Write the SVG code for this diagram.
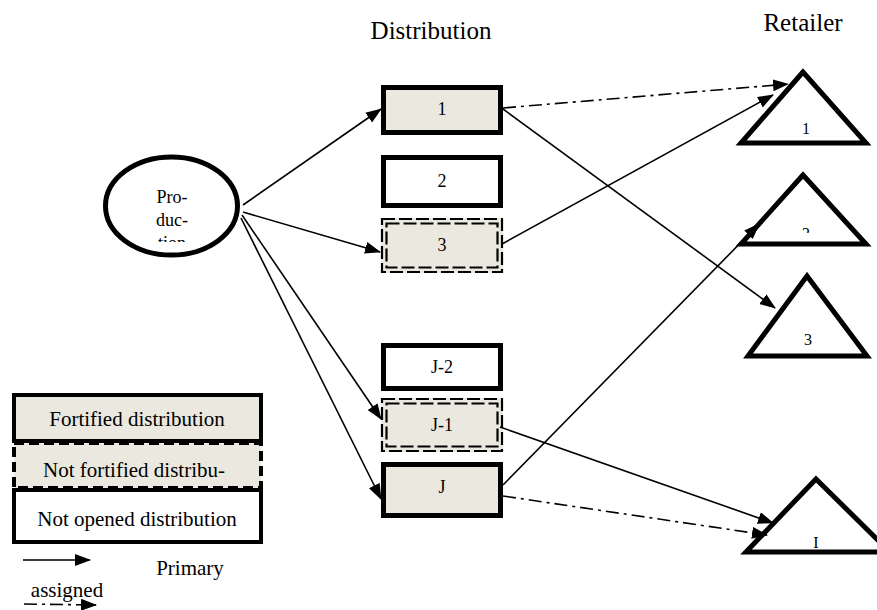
<svg xmlns="http://www.w3.org/2000/svg" width="877" height="610" viewBox="0 0 877 610">
<style>
text{font-family:"Liberation Serif",Tinos,"Noto Serif","DejaVu Serif",FreeSerif,"Times New Roman",Times,serif;fill:#000}
.title{font-size:25px;text-anchor:middle}
.lbl{font-size:18px;text-anchor:middle}
.tl{font-size:16px;text-anchor:middle}
.leg{font-size:21px;text-anchor:middle}
.solid{fill:#fff;stroke:#000;stroke-width:5}
.fort{fill:#ebe9df;stroke:#000;stroke-width:5}
.dbl{fill:none;stroke:#000;stroke-width:2.2;stroke-dasharray:13,4}
.tri{fill:#fff;stroke:#000;stroke-width:5;stroke-linejoin:miter}
.c{fill:none;stroke:#000;stroke-width:1.6}
.dd{stroke-dasharray:13,5,3,5}
</style>
<defs>
<marker id="ah" markerWidth="16" markerHeight="12" refX="15" refY="6" orient="auto" markerUnits="userSpaceOnUse"><path d="M0,0 L16,6 L0,12 z" fill="#000"/></marker>
<clipPath id="clipProd"><rect x="100" y="150" width="150" height="92"/></clipPath>
<clipPath id="clipT2"><rect x="780" y="220" width="60" height="13"/></clipPath>
</defs>

<text class="title" x="431" y="39">Distribution</text>
<text class="title" x="803" y="31">Retailer</text>

<g id="production">
<ellipse cx="171.5" cy="206" rx="66" ry="49" fill="#fff" stroke="#000" stroke-width="5"/>
<g clip-path="url(#clipProd)">
<text class="lbl" x="172" y="203">Pro-</text>
<text class="lbl" x="172" y="226">duc-</text>
<text class="lbl" x="172" y="249">tion</text>
</g>
</g>

<g id="d1"><rect class="fort" x="383.5" y="87.5" width="117" height="45"/><text class="lbl" x="442" y="115">1</text></g>
<g id="d2"><rect class="solid" x="383.5" y="157.5" width="117" height="48"/><text class="lbl" x="442" y="187">2</text></g>
<g id="d3"><rect x="381" y="218" width="122" height="55" fill="#ebe9df"/><rect class="dbl" x="382" y="219" width="120" height="53"/><rect class="dbl" x="386.5" y="223.5" width="111" height="44"/><text class="lbl" x="442" y="251">3</text></g>
<g id="dJ2"><rect class="solid" x="383.5" y="345.5" width="117" height="43"/><text class="lbl" x="442" y="373">J-2</text></g>
<g id="dJ1"><rect x="381" y="398" width="122" height="54" fill="#ebe9df"/><rect class="dbl" x="382" y="399" width="120" height="52"/><rect class="dbl" x="386.5" y="403.5" width="111" height="43"/><text class="lbl" x="442" y="431">J-1</text></g>
<g id="dJ"><rect class="fort" x="383.5" y="464.5" width="117" height="51"/><text class="lbl" x="442" y="493">J</text></g>

<g id="r1"><polygon class="tri" points="803,72 741,143 866,143"/><text class="tl" x="806" y="134">1</text></g>
<g id="r2"><polygon class="tri" points="803,175 741,244 866,244"/><text class="tl" x="806" y="239" clip-path="url(#clipT2)">2</text></g>
<g id="r3"><polygon class="tri" points="807,276 748,356 867,356"/><text class="tl" x="808" y="345">3</text></g>
<g id="rJ"><polygon class="tri" points="816,479 746,552 890,552"/><text class="tl" x="816" y="548">I</text></g>

<g id="connectors">
<line class="c" x1="243" y1="205" x2="381" y2="109" marker-end="url(#ah)"/>
<line class="c" x1="243" y1="212" x2="380" y2="252" marker-end="url(#ah)"/>
<line class="c" x1="242" y1="215" x2="381" y2="419" marker-end="url(#ah)"/>
<line class="c" x1="241" y1="218" x2="381" y2="499" marker-end="url(#ah)"/>
<line class="c dd" x1="503" y1="108" x2="788" y2="84" marker-end="url(#ah)"/>
<line class="c" x1="503" y1="109" x2="775" y2="308" marker-end="url(#ah)"/>
<line class="c" stroke-width="1.1" x1="502" y1="244" x2="773" y2="95" marker-end="url(#ah)"/>
<line class="c" x1="503" y1="485" x2="759" y2="224" marker-end="url(#ah)"/>
<line class="c" x1="500" y1="427" x2="773" y2="523" marker-end="url(#ah)"/>
<line class="c dd" x1="503" y1="496" x2="767" y2="535" marker-end="url(#ah)"/>
</g>

<g id="legend">
<rect x="14" y="395" width="247" height="46" fill="#ebe9df" stroke="#000" stroke-width="4"/>
<text class="leg" x="137" y="426">Fortified distribution</text>
<rect x="14" y="443" width="247" height="45" fill="#ebe9df" stroke="#000" stroke-width="4" stroke-dasharray="10,5"/>
<text class="leg" x="134" y="477">Not fortified distribu-</text>
<rect x="14" y="490" width="247" height="52" fill="#fff" stroke="#000" stroke-width="4"/>
<text class="leg" x="137" y="526">Not opened distribution</text>
<line class="c" x1="23" y1="560" x2="90" y2="560" marker-end="url(#ah)"/>
<text class="leg" x="190" y="575">Primary</text>
<text class="leg" x="67" y="597">assigned</text>
<line class="c dd" x1="24" y1="604" x2="96" y2="605" marker-end="url(#ah)"/>
</g>
</svg>
